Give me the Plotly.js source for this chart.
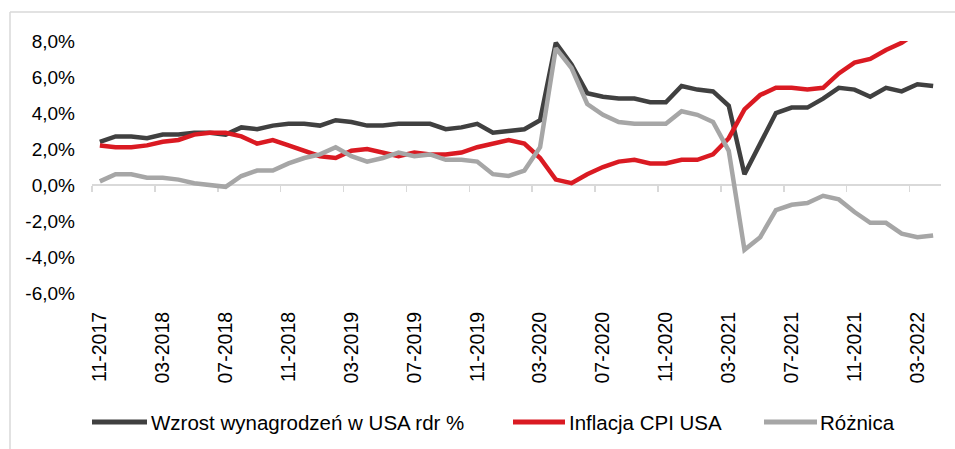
<!DOCTYPE html>
<html>
<head>
<meta charset="utf-8">
<script src="https://cdn.plot.ly/plotly-3.0.1.min.js"></script>
<style>
  html, body { margin: 0; padding: 0; background: #ffffff; }
  #chart { width: 955px; height: 449px; }
</style>
</head>
<body>
<div id="chart"></div>
<script>
// ---- data ----
const months = ["11-2017","12-2017","01-2018","02-2018","03-2018","04-2018","05-2018","06-2018","07-2018","08-2018",
  "09-2018","10-2018","11-2018","12-2018","01-2019","02-2019","03-2019","04-2019","05-2019","06-2019",
  "07-2019","08-2019","09-2019","10-2019","11-2019","12-2019","01-2020","02-2020","03-2020","04-2020",
  "05-2020","06-2020","07-2020","08-2020","09-2020","10-2020","11-2020","12-2020","01-2021","02-2021",
  "03-2021","04-2021","05-2021","06-2021","07-2021","08-2021","09-2021","10-2021","11-2021","12-2021",
  "01-2022","02-2022","03-2022","04-2022"];

const wages = [2.4,2.7,2.7,2.6,2.8,2.8,2.9,2.9,2.8,3.2,
  3.1,3.3,3.4,3.4,3.3,3.6,3.5,3.3,3.3,3.4,
  3.4,3.4,3.1,3.2,3.4,2.9,3.0,3.1,3.6,7.9,
  6.7,5.1,4.9,4.8,4.8,4.6,4.6,5.5,5.3,5.2,
  4.4,0.6,2.3,4.0,4.3,4.3,4.8,5.4,5.3,4.9,
  5.4,5.2,5.6,5.5];

const cpi = [2.2,2.1,2.1,2.2,2.4,2.5,2.8,2.9,2.9,2.7,
  2.3,2.5,2.2,1.9,1.6,1.5,1.9,2.0,1.8,1.6,
  1.8,1.7,1.7,1.8,2.1,2.3,2.5,2.3,1.5,0.3,
  0.1,0.6,1.0,1.3,1.4,1.2,1.2,1.4,1.4,1.7,
  2.6,4.2,5.0,5.4,5.4,5.3,5.4,6.2,6.8,7.0,
  7.5,7.9,8.5,8.3];

const diff = [0.2,0.6,0.6,0.4,0.4,0.3,0.1,0.0,-0.1,0.5,
  0.8,0.8,1.2,1.5,1.7,2.1,1.6,1.3,1.5,1.8,
  1.6,1.7,1.4,1.4,1.3,0.6,0.5,0.8,2.1,7.6,
  6.5,4.5,3.9,3.5,3.4,3.4,3.4,4.1,3.9,3.5,
  1.9,-3.6,-2.9,-1.4,-1.1,-1.0,-0.6,-0.8,-1.5,-2.1,
  -2.1,-2.7,-2.9,-2.8];

const seriesNames = ["Wzrost wynagrodzeń w USA rdr %", "Inflacja CPI USA", "Różnica"];
const seriesColors = ["#404040", "#da1a22", "#a6a6a6"];

const yTickVals = [-6,-4,-2,0,2,4,6,8];
const yTickText = ["-6,0%","-4,0%","-2,0%","0,0%","2,0%","4,0%","6,0%","8,0%"];

// ---- build ----
const xIdx = months.map((m, i) => i);
const labelEvery = 4;
const tickIdx = xIdx.filter(i => i % labelEvery === 0);
const tickText = tickIdx.map(i => months[i]);
const boundaryTicks = tickIdx.map(i => i - 0.5);

const W = 955, H = 449;
const M = {l: 92, r: 14, t: 41, b: 156};
const pw = W - M.l - M.r, ph = H - M.t - M.b;
const px = x => (x - M.l) / pw;
const py = y => (M.t + ph - y) / ph;

const FONT = '"Liberation Sans", Arial, sans-serif';

const seriesData = [wages, cpi, diff];
const traces = seriesData.map((vals, k) => ({
  type: 'scatter',
  mode: 'lines',
  x: xIdx,
  y: vals,
  name: seriesNames[k],
  xaxis: k === 2 ? 'x2' : 'x',
  line: {color: seriesColors[k], width: 4.5, shape: 'linear'},
  hoverinfo: 'skip'
}));

// manual legend
const legendLineX = [[92, 147], [513, 565], [764, 817]];
const legendTextX = [149, 567, 818];
const legendY = 422;

const shapes = [
  // chart frame
  {type: 'line', xref: 'paper', yref: 'paper', x0: px(10), x1: px(10), y0: py(12), y1: py(460),
   line: {color: '#d9d9d9', width: 1.5}},
  {type: 'line', xref: 'paper', yref: 'paper', x0: px(10), x1: px(960), y0: py(12), y1: py(12),
   line: {color: '#d9d9d9', width: 1.5}}
];
const annotations = [];
seriesNames.forEach((n, k) => {
  shapes.push({type: 'line', xref: 'paper', yref: 'paper',
    x0: px(legendLineX[k][0]), x1: px(legendLineX[k][1]), y0: py(legendY), y1: py(legendY),
    line: {color: seriesColors[k], width: 5}});
  annotations.push({xref: 'paper', yref: 'paper', x: px(legendTextX[k]), y: py(legendY),
    xanchor: 'left', yanchor: 'middle', showarrow: false, text: n,
    font: {family: FONT, size: 20.5, color: '#000000'}});
});

const layout = {
  width: W, height: H,
  margin: {l: M.l, r: M.r, t: M.t, b: M.b, pad: 0},
  paper_bgcolor: '#ffffff', plot_bgcolor: '#ffffff',
  showlegend: false,
  font: {family: FONT, size: 19, color: '#000000'},
  xaxis: {
    type: 'linear', range: [-0.5, months.length - 0.5],
    tickmode: 'array', tickvals: tickIdx, ticktext: tickText,
    tickangle: -90, ticks: '', showgrid: false, zeroline: false, showline: false,
    tickfont: {family: FONT, size: 19.5, color: '#000000'},
    ticklabelstandoff: 14, fixedrange: true
  },
  xaxis2: {
    type: 'linear', range: [-0.5, months.length - 0.5],
    overlaying: 'x', anchor: 'free', position: py(185), side: 'bottom',
    tickmode: 'array', tickvals: boundaryTicks, showticklabels: false,
    ticks: 'outside', ticklen: 6, tickwidth: 1.5, tickcolor: '#d9d9d9',
    showline: true, linecolor: '#d9d9d9', linewidth: 2,
    showgrid: false, zeroline: false, layer: 'below traces', fixedrange: true
  },
  yaxis: {
    range: [-6, 8],
    tickmode: 'array', tickvals: yTickVals, ticktext: yTickText,
    ticks: '', showgrid: false, zeroline: false, showline: false,
    tickfont: {family: FONT, size: 19, color: '#000000'},
    ticklabelstandoff: 16, fixedrange: true
  },
  shapes: shapes,
  annotations: annotations
};

Plotly.newPlot('chart', traces, layout, {displayModeBar: false, staticPlot: true});
</script>
</body>
</html>
